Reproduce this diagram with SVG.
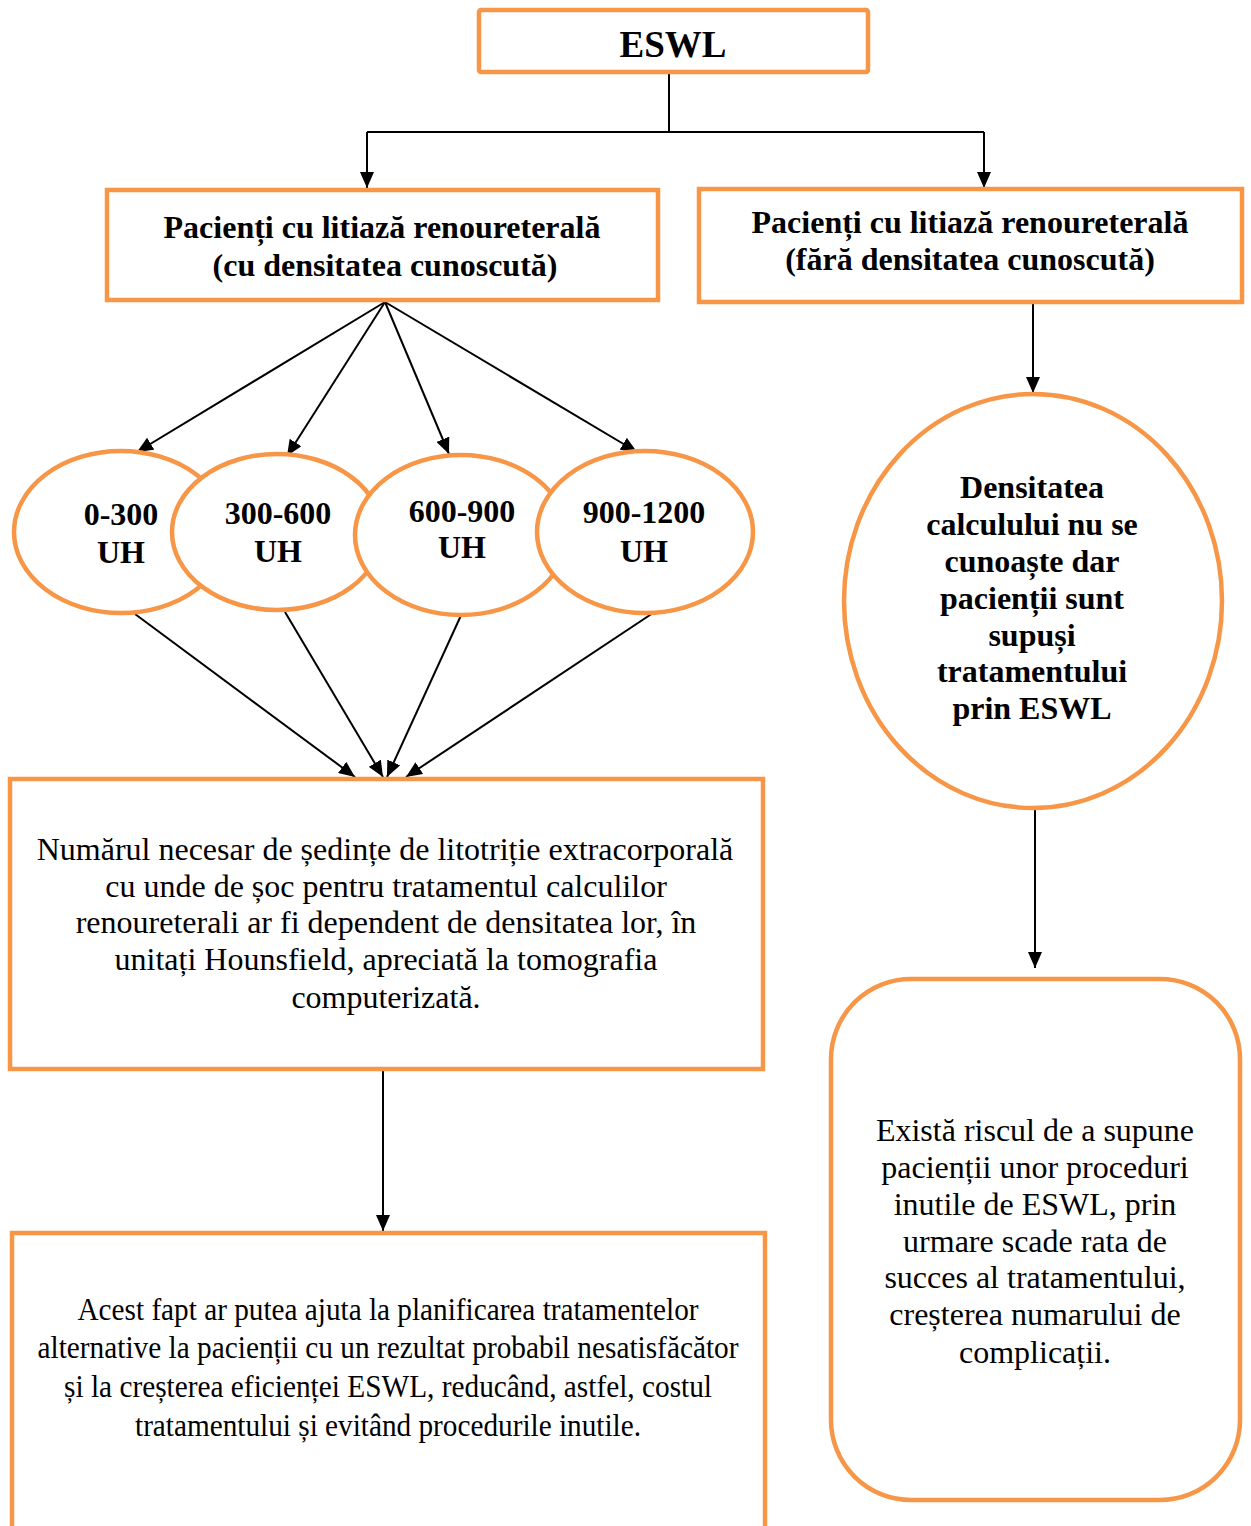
<svg xmlns="http://www.w3.org/2000/svg" width="1251" height="1526" viewBox="0 0 1251 1526">
<defs>
<style>
.box{fill:#fff;stroke:#F79646;stroke-width:4.5}
.ln{fill:none;stroke:#000;stroke-width:2}
.b{font-family:"Liberation Serif","Times New Roman",serif;font-weight:bold;font-size:32px;fill:#000;text-anchor:middle}
.r{font-family:"Liberation Serif","Times New Roman",serif;font-size:32px;fill:#000;text-anchor:middle}
</style>
<marker id="ah" viewBox="0 0 16 14" refX="16" refY="7" markerWidth="16" markerHeight="14" markerUnits="userSpaceOnUse" orient="auto">
<path d="M0,0 L16,7 L0,14 z" fill="#000"/>
</marker>
</defs>
<rect width="1251" height="1526" fill="#fff"/>

<g id="connectors">
<path class="ln" d="M669,72 V132"/>
<path class="ln" d="M367,132 H984"/>
<path class="ln" d="M367,132 V188" marker-end="url(#ah)"/>
<path class="ln" d="M984,132 V188" marker-end="url(#ah)"/>
<path class="ln" d="M385,302 L137,452" marker-end="url(#ah)"/>
<path class="ln" d="M385,302 L287,456" marker-end="url(#ah)"/>
<path class="ln" d="M385,302 L449,454" marker-end="url(#ah)"/>
<path class="ln" d="M385,302 L637,452" marker-end="url(#ah)"/>
<path class="ln" d="M135,614 L355,777" marker-end="url(#ah)"/>
<path class="ln" d="M285,612 L383,777" marker-end="url(#ah)"/>
<path class="ln" d="M463,611 L387,777" marker-end="url(#ah)"/>
<path class="ln" d="M656,611 L406,777" marker-end="url(#ah)"/>
<path class="ln" d="M1033,302 V393" marker-end="url(#ah)"/>
<path class="ln" d="M1035,808 V968" marker-end="url(#ah)"/>
<path class="ln" d="M383,1069 V1231" marker-end="url(#ah)"/>
</g>

<g id="eswl">
<rect class="box" x="479" y="10" width="389" height="62" rx="2"/>
<text class="b" x="673" y="57" style="font-size:37px">ESWL</text>
</g>

<g id="known">
<rect class="box" x="107" y="190" width="551" height="110"/>
<text class="b" x="382" y="238">Pacienți cu litiază renoureterală</text>
<text class="b" x="385" y="276">(cu densitatea cunoscută)</text>
</g>

<g id="unknown">
<rect class="box" x="699" y="189" width="543" height="113"/>
<text class="b" x="970" y="233">Pacienți cu litiază renoureterală</text>
<text class="b" x="970" y="270">(fără densitatea cunoscută)</text>
</g>

<g id="e1">
<ellipse class="box" cx="121" cy="532" rx="107" ry="81"/>
<text class="b" x="121" y="525">0-300</text>
<text class="b" x="121" y="563">UH</text>
</g>
<g id="e2">
<ellipse class="box" cx="277" cy="532" rx="105" ry="78"/>
<text class="b" x="278" y="524">300-600</text>
<text class="b" x="278" y="562">UH</text>
</g>
<g id="e3">
<ellipse class="box" cx="461" cy="535" rx="106" ry="80"/>
<text class="b" x="462" y="522">600-900</text>
<text class="b" x="462" y="558">UH</text>
</g>
<g id="e4">
<ellipse class="box" cx="645" cy="532" rx="108" ry="81"/>
<text class="b" x="644" y="523">900-1200</text>
<text class="b" x="644" y="562">UH</text>
</g>

<g id="circle">
<ellipse class="box" cx="1033" cy="601" rx="189" ry="207"/>
<text class="b" x="1032" y="498">Densitatea</text>
<text class="b" x="1032" y="535">calculului nu se</text>
<text class="b" x="1032" y="572">cunoaște dar</text>
<text class="b" x="1032" y="609">pacienții sunt</text>
<text class="b" x="1032" y="646">supuși</text>
<text class="b" x="1032" y="682">tratamentului</text>
<text class="b" x="1032" y="719">prin ESWL</text>
</g>

<g id="risk">
<rect class="box" x="831" y="979" width="409" height="521" rx="80"/>
<text class="r" x="1035" y="1141">Există riscul de a supune</text>
<text class="r" x="1035" y="1178">pacienții unor proceduri</text>
<text class="r" x="1035" y="1215">inutile de ESWL, prin</text>
<text class="r" x="1035" y="1252">urmare scade rata de</text>
<text class="r" x="1035" y="1288">succes al tratamentului,</text>
<text class="r" x="1035" y="1325">creșterea numarului de</text>
<text class="r" x="1035" y="1363">complicații.</text>
</g>

<g id="number">
<rect class="box" x="10" y="779" width="753" height="290"/>
<text class="r" x="385" y="860">Numărul necesar de ședințe de litotriție extracorporală</text>
<text class="r" x="386" y="897">cu unde de șoc pentru tratamentul calculilor</text>
<text class="r" x="386" y="933">renoureterali ar fi dependent de densitatea lor, în</text>
<text class="r" x="386" y="970">unitați Hounsfield, apreciată la tomografia</text>
<text class="r" x="386" y="1008">computerizată.</text>
</g>

<g id="benefit">
<rect class="box" x="12" y="1233" width="753" height="320"/>
<text class="r" x="388" y="1320" textLength="621" lengthAdjust="spacingAndGlyphs">Acest fapt ar putea ajuta la planificarea tratamentelor</text>
<text class="r" x="388" y="1358" textLength="701" lengthAdjust="spacingAndGlyphs">alternative la pacienții cu un rezultat probabil nesatisfăcător</text>
<text class="r" x="388" y="1397" textLength="648" lengthAdjust="spacingAndGlyphs">și la creșterea eficienței ESWL, reducând, astfel, costul</text>
<text class="r" x="388" y="1436" textLength="506" lengthAdjust="spacingAndGlyphs">tratamentului și evitând procedurile inutile.</text>
</g>
</svg>
